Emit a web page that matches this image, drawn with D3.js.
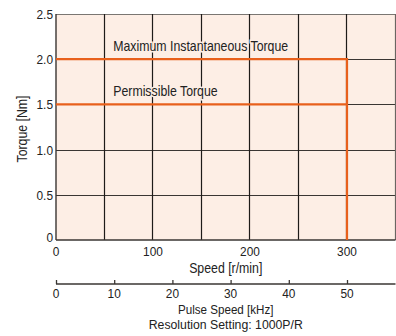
<!DOCTYPE html>
<html>
<head>
<meta charset="utf-8">
<script src="https://cdn.jsdelivr.net/npm/d3@7"></script>
<style>
  body { margin: 0; background: #fff; }
  text { font-family: "Liberation Sans", Arial, sans-serif; fill: #222; }
</style>
</head>
<body>
<svg id="chart" width="396" height="336"></svg>
<script>
// Chart values
var speedTicks = [0, 100, 200, 300];
var speedGrid = [50, 100, 150, 200, 250, 300];
var torqueTicks = [0, 0.5, 1.0, 1.5, 2.0, 2.5];
var pulseTicks = [0, 10, 20, 30, 40, 50];
// torque limit curves: [speed, torque]
var maxTorque = [[0, 2.0], [300, 2.0], [300, 0]];
var permTorque = [[0, 1.5], [300, 1.5]];
var labels = [
    { text: "Maximum Instantaneous Torque", speed: 59, torque: 2.0 },
    { text: "Permissible Torque", speed: 59, torque: 1.5 }
];

var svg = d3.select("#chart");

var margin = { left: 56, top: 14, right: 0.5, bottom: 96 };
var width = 396 - margin.left - margin.right,
    height = 336 - margin.top - margin.bottom;

var x = d3.scaleLinear().domain([0, 350]).range([margin.left, margin.left + width]);
var y = d3.scaleLinear().domain([0, 2.5]).range([margin.top + height, margin.top]);
// 50 kHz corresponds to 300 r/min
var xp = d3.scaleLinear().domain([0, 350 / 6]).range([margin.left, margin.left + width]);

// condensed look: stretch a normal sans narrower
var squeeze = 0.88;
function label(px, py, str, size, anchor) {
    return svg.append("text")
        .attr("transform", "translate(" + px + "," + py + ") scale(" + squeeze + ",1)")
        .attr("text-anchor", anchor || "start")
        .style("font-size", size + "px")
        .text(str);
}

// Plot background
svg.append("rect")
    .attr("x", x(0))
    .attr("y", y(2.5))
    .attr("width", x(350) - x(0))
    .attr("height", y(0) - y(2.5))
    .style("fill", "#fdeee5");

// Grid
svg.selectAll(".hgrid")
    .data(torqueTicks.slice(1))
    .enter()
    .append("line")
        .attr("class", "hgrid")
        .attr("x1", x(0))
        .attr("x2", x(350))
        .attr("y1", function (d) { return Math.round(y(d)) + 0.5; })
        .attr("y2", function (d) { return Math.round(y(d)) + 0.5; })
        .style("stroke", function (d) { return d == 2.5 ? "#7a7672" : "#3a3633"; })
        .style("stroke-width", 1.2);

svg.selectAll(".vgrid")
    .data(speedGrid.concat([350]))
    .enter()
    .append("line")
        .attr("class", "vgrid")
        .attr("x1", function (d) { return Math.round(x(d)) - 0.5; })
        .attr("x2", function (d) { return Math.round(x(d)) - 0.5; })
        .attr("y1", y(0))
        .attr("y2", y(2.5))
        .style("stroke", function (d) { return d == 350 ? "#6a6662" : "#1e1b19"; })
        .style("stroke-width", 1.2);

// Axis lines
svg.append("line")
    .attr("x1", x(0)).attr("x2", x(0))
    .attr("y1", y(0)).attr("y2", y(2.5))
    .style("stroke", "#3a3633").style("stroke-width", 1.4);
svg.append("line")
    .attr("x1", x(0)).attr("x2", x(350))
    .attr("y1", y(0)).attr("y2", y(0))
    .style("stroke", "#3a3633").style("stroke-width", 1.4);

// Torque limit lines
var line = d3.line()
    .x(function (d) { return x(d[0]); })
    .y(function (d) { return y(d[1]); });

[maxTorque, permTorque].forEach(function (pts) {
    svg.append("path")
        .attr("d", line(pts))
        .style("fill", "none")
        .style("stroke", "#e8601c")
        .style("stroke-width", 2.2);
});

// Curve labels - knock out grid behind text
labels.forEach(function (l) {
    label(x(l.speed), y(l.torque) - 8, l.text, 14)
        .style("paint-order", "stroke")
        .style("stroke", "#fdeee5")
        .style("stroke-width", 3);
});

// Y tick labels
torqueTicks.forEach(function (d) {
    if (d == 0) {
        label(x(0) - 3, y(d) + 2, "0", 13.5, "end");
    } else {
        label(x(0) - 3, y(d) + 5, d3.format(".1f")(d), 13.5, "end");
    }
});

// X tick labels
speedTicks.forEach(function (d) {
    label(x(d), y(0) + 16, d, 13.5, "middle");
});

label(x(175), y(0) + 33, "Speed [r/min]", 14, "middle");

svg.append("text")
    .attr("transform", "translate(27," + ((y(0) + y(2.5)) / 2 + 2) + ") rotate(-90) scale(" + squeeze + ",1)")
    .attr("text-anchor", "middle")
    .style("font-size", "14px")
    .text("Torque [Nm]");

// Pulse speed axis
var pulseY = 284;
var pulseAxis = d3.axisTop(xp)
    .tickValues(pulseTicks)
    .tickSize(4)
    .tickFormat("");
var pg = svg.append("g")
    .attr("transform", "translate(0," + pulseY + ")")
    .call(pulseAxis);
pg.select(".domain")
    .attr("d", "M" + xp.range()[0] + ",0H" + xp.range()[1])
    .style("stroke", "#3a3633").style("stroke-width", 1.3);
pg.selectAll(".tick line").style("stroke", "#3a3633").style("stroke-width", 1.3);

pulseTicks.forEach(function (d) {
    label(xp(d), pulseY + 14, d, 13.5, "middle");
});

label(x(175), pulseY + 30, "Pulse Speed [kHz]", 13.2, "middle");
label(x(175), pulseY + 45, "Resolution Setting: 1000P/R", 13.2, "middle")
    .attr("transform", "translate(" + x(175) + "," + (pulseY + 45) + ") scale(0.93,1)");
</script>
</body>
</html>
